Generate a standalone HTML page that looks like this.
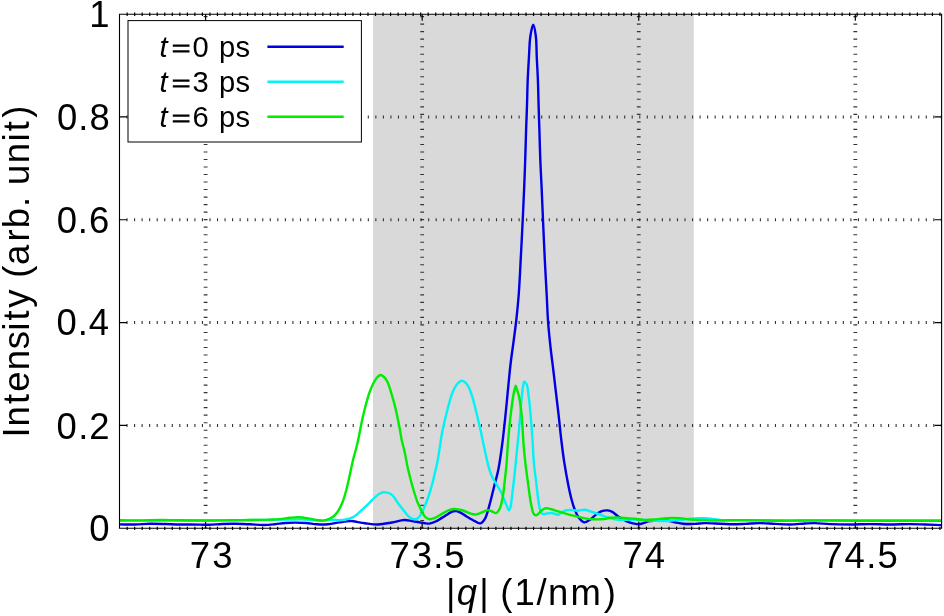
<!DOCTYPE html><html><head><meta charset="utf-8"><style>html,body{margin:0;padding:0;background:#fff;}svg{display:block;}text{font-family:"Liberation Sans",sans-serif;fill:#000;}svg{will-change:transform;}</style></head><body>
<svg width="944" height="616" viewBox="0 0 944 616">
<rect x="0" y="0" width="944" height="616" fill="#fff"/>
<rect x="373" y="14.8" width="320.8" height="512.9" fill="#d9d9d9"/>
<path d="M118.95 425.38H941.6M118.95 322.56H941.6M118.95 219.74H941.6M118.95 116.92H941.6" stroke="#333" stroke-width="3" stroke-dasharray="1.1 6.44" fill="none"/>
<path d="M205.60 16.05V528.2M422.17 16.05V528.2M638.75 16.05V528.2M855.32 16.05V528.2" stroke="#333" stroke-width="3.8" stroke-dasharray="1.1 6.42" fill="none"/>
<path d="M119.5 425.38h7.5M941.6 425.38h-7M119.5 322.56h7.5M941.6 322.56h-7M119.5 219.74h7.5M941.6 219.74h-7M119.5 116.92h7.5M941.6 116.92h-7M205.60 528.2v-6.5M205.60 14.3v6.5M422.17 528.2v-6.5M422.17 14.3v6.5M638.75 528.2v-6.5M638.75 14.3v6.5M855.32 528.2v-6.5M855.32 14.3v6.5" stroke="#000" stroke-width="1.2" fill="none"/>
<path d="M127.15 526.7v3.4M127.15 12.6v3.4M134.68 526.7v3.4M134.68 12.6v3.4M142.20 526.7v3.4M142.20 12.6v3.4M149.73 526.7v3.4M149.73 12.6v3.4M157.25 526.7v3.4M157.25 12.6v3.4M164.78 526.7v3.4M164.78 12.6v3.4M172.31 526.7v3.4M172.31 12.6v3.4M179.83 526.7v3.4M179.83 12.6v3.4M187.36 526.7v3.4M187.36 12.6v3.4M194.88 526.7v3.4M194.88 12.6v3.4M202.41 526.7v3.4M202.41 12.6v3.4M209.94 526.7v3.4M209.94 12.6v3.4M217.46 526.7v3.4M217.46 12.6v3.4M224.99 526.7v3.4M224.99 12.6v3.4M232.51 526.7v3.4M232.51 12.6v3.4M240.04 526.7v3.4M240.04 12.6v3.4M247.57 526.7v3.4M247.57 12.6v3.4M255.09 526.7v3.4M255.09 12.6v3.4M262.62 526.7v3.4M262.62 12.6v3.4M270.14 526.7v3.4M270.14 12.6v3.4M277.67 526.7v3.4M277.67 12.6v3.4M285.20 526.7v3.4M285.20 12.6v3.4M292.72 526.7v3.4M292.72 12.6v3.4M300.25 526.7v3.4M300.25 12.6v3.4M307.77 526.7v3.4M307.77 12.6v3.4M315.30 526.7v3.4M315.30 12.6v3.4M322.83 526.7v3.4M322.83 12.6v3.4M330.35 526.7v3.4M330.35 12.6v3.4M337.88 526.7v3.4M337.88 12.6v3.4M345.40 526.7v3.4M345.40 12.6v3.4M352.93 526.7v3.4M352.93 12.6v3.4M360.46 526.7v3.4M360.46 12.6v3.4M367.98 526.7v3.4M367.98 12.6v3.4M375.51 526.7v3.4M375.51 12.6v3.4M383.03 526.7v3.4M383.03 12.6v3.4M390.56 526.7v3.4M390.56 12.6v3.4M398.09 526.7v3.4M398.09 12.6v3.4M405.61 526.7v3.4M405.61 12.6v3.4M413.14 526.7v3.4M413.14 12.6v3.4M420.66 526.7v3.4M420.66 12.6v3.4M428.19 526.7v3.4M428.19 12.6v3.4M435.72 526.7v3.4M435.72 12.6v3.4M443.24 526.7v3.4M443.24 12.6v3.4M450.77 526.7v3.4M450.77 12.6v3.4M458.29 526.7v3.4M458.29 12.6v3.4M465.82 526.7v3.4M465.82 12.6v3.4M473.35 526.7v3.4M473.35 12.6v3.4M480.87 526.7v3.4M480.87 12.6v3.4M488.40 526.7v3.4M488.40 12.6v3.4M495.92 526.7v3.4M495.92 12.6v3.4M503.45 526.7v3.4M503.45 12.6v3.4M510.98 526.7v3.4M510.98 12.6v3.4M518.50 526.7v3.4M518.50 12.6v3.4M526.03 526.7v3.4M526.03 12.6v3.4M533.55 526.7v3.4M533.55 12.6v3.4M541.08 526.7v3.4M541.08 12.6v3.4M548.61 526.7v3.4M548.61 12.6v3.4M556.13 526.7v3.4M556.13 12.6v3.4M563.66 526.7v3.4M563.66 12.6v3.4M571.18 526.7v3.4M571.18 12.6v3.4M578.71 526.7v3.4M578.71 12.6v3.4M586.24 526.7v3.4M586.24 12.6v3.4M593.76 526.7v3.4M593.76 12.6v3.4M601.29 526.7v3.4M601.29 12.6v3.4M608.81 526.7v3.4M608.81 12.6v3.4M616.34 526.7v3.4M616.34 12.6v3.4M623.87 526.7v3.4M623.87 12.6v3.4M631.39 526.7v3.4M631.39 12.6v3.4M638.92 526.7v3.4M638.92 12.6v3.4M646.44 526.7v3.4M646.44 12.6v3.4M653.97 526.7v3.4M653.97 12.6v3.4M661.50 526.7v3.4M661.50 12.6v3.4M669.02 526.7v3.4M669.02 12.6v3.4M676.55 526.7v3.4M676.55 12.6v3.4M684.07 526.7v3.4M684.07 12.6v3.4M691.60 526.7v3.4M691.60 12.6v3.4M699.13 526.7v3.4M699.13 12.6v3.4M706.65 526.7v3.4M706.65 12.6v3.4M714.18 526.7v3.4M714.18 12.6v3.4M721.70 526.7v3.4M721.70 12.6v3.4M729.23 526.7v3.4M729.23 12.6v3.4M736.76 526.7v3.4M736.76 12.6v3.4M744.28 526.7v3.4M744.28 12.6v3.4M751.81 526.7v3.4M751.81 12.6v3.4M759.33 526.7v3.4M759.33 12.6v3.4M766.86 526.7v3.4M766.86 12.6v3.4M774.39 526.7v3.4M774.39 12.6v3.4M781.91 526.7v3.4M781.91 12.6v3.4M789.44 526.7v3.4M789.44 12.6v3.4M796.96 526.7v3.4M796.96 12.6v3.4M804.49 526.7v3.4M804.49 12.6v3.4M812.02 526.7v3.4M812.02 12.6v3.4M819.54 526.7v3.4M819.54 12.6v3.4M827.07 526.7v3.4M827.07 12.6v3.4M834.59 526.7v3.4M834.59 12.6v3.4M842.12 526.7v3.4M842.12 12.6v3.4M849.65 526.7v3.4M849.65 12.6v3.4M857.17 526.7v3.4M857.17 12.6v3.4M864.70 526.7v3.4M864.70 12.6v3.4M872.22 526.7v3.4M872.22 12.6v3.4M879.75 526.7v3.4M879.75 12.6v3.4M887.28 526.7v3.4M887.28 12.6v3.4M894.80 526.7v3.4M894.80 12.6v3.4M902.33 526.7v3.4M902.33 12.6v3.4M909.85 526.7v3.4M909.85 12.6v3.4M917.38 526.7v3.4M917.38 12.6v3.4M924.91 526.7v3.4M924.91 12.6v3.4M932.43 526.7v3.4M932.43 12.6v3.4M939.96 526.7v3.4M939.96 12.6v3.4" stroke="#000" stroke-width="1.2" fill="none"/>
<path d="M119.50 524.40 C124.67 524.43 129.88 524.60 135.00 524.50 C140.04 524.40 145.00 523.88 150.00 523.80 C155.00 523.72 160.00 523.88 165.00 524.00 C170.00 524.12 174.64 524.40 180.00 524.50 C186.19 524.62 194.65 524.53 200.00 524.60 C203.59 524.65 205.73 524.86 209.00 524.80 C212.94 524.72 217.66 524.17 222.00 524.00 C226.33 523.83 230.51 523.76 235.00 523.80 C239.82 523.84 245.09 524.10 250.00 524.30 C254.75 524.50 259.62 525.05 264.00 525.00 C267.89 524.96 271.42 524.54 275.00 524.20 C278.42 523.87 281.68 523.27 285.00 523.00 C288.28 522.74 291.42 522.61 294.80 522.60 C298.41 522.59 302.29 522.71 306.00 523.00 C309.69 523.28 313.33 524.08 317.00 524.30 C320.66 524.52 324.32 524.61 328.00 524.30 C331.75 523.99 335.58 522.96 339.30 522.40 C342.91 521.86 347.50 521.04 350.00 521.00 C351.34 520.98 351.74 521.13 353.10 521.30 C355.78 521.64 360.94 522.67 365.00 523.20 C369.23 523.75 373.59 524.59 378.00 524.50 C382.59 524.40 387.50 523.28 392.00 522.50 C396.24 521.77 400.67 520.13 404.30 520.00 C407.16 519.90 409.41 520.61 412.00 521.00 C414.65 521.40 417.65 521.98 420.00 522.40 C421.86 522.73 423.38 523.10 425.00 523.30 C426.51 523.49 427.83 523.80 429.40 523.60 C431.31 523.35 433.58 522.42 435.60 521.50 C437.72 520.54 439.83 519.08 441.80 517.90 C443.62 516.81 445.26 515.75 447.00 514.70 C448.73 513.65 450.50 512.18 452.20 511.60 C453.62 511.12 455.03 510.94 456.40 511.10 C457.79 511.26 459.08 511.90 460.50 512.60 C462.22 513.44 463.87 514.77 465.90 516.00 C468.46 517.55 472.02 519.83 474.70 521.10 C476.79 522.09 478.80 523.66 480.50 523.30 C482.20 522.93 483.63 520.96 484.90 518.90 C486.80 515.82 487.92 510.44 489.30 505.70 C490.88 500.30 492.21 494.15 493.70 488.20 C495.24 482.02 497.05 476.03 498.40 469.30 C499.91 461.74 501.05 452.76 502.10 445.00 C503.06 437.88 503.75 431.34 504.50 424.50 C505.25 417.67 505.91 410.96 506.60 404.00 C507.31 396.80 507.98 389.16 508.70 382.00 C509.38 375.17 510.00 368.66 510.80 362.00 C511.60 355.33 512.60 348.83 513.50 342.00 C514.44 334.84 515.45 327.57 516.30 320.00 C517.20 311.94 518.01 304.06 518.70 295.00 C519.52 284.23 520.06 271.56 520.70 259.60 C521.36 247.33 522.01 234.56 522.60 222.30 C523.17 210.37 523.75 197.98 524.20 187.00 C524.60 177.40 524.89 169.24 525.20 160.00 C525.53 150.26 525.79 139.54 526.10 130.00 C526.39 121.29 526.73 113.33 527.00 105.00 C527.27 96.67 527.37 88.06 527.70 80.00 C528.01 72.43 528.45 65.33 528.90 58.00 C529.35 50.67 529.45 42.10 530.40 36.00 C531.09 31.55 532.30 24.59 533.20 24.60 C534.10 24.61 535.20 31.55 535.80 36.00 C536.63 42.11 536.45 50.67 536.80 58.00 C537.15 65.33 537.60 72.43 537.90 80.00 C538.21 88.07 538.35 96.67 538.60 105.00 C538.85 113.33 539.13 121.29 539.40 130.00 C539.70 139.54 539.92 150.27 540.30 160.00 C540.66 169.24 541.16 177.40 541.60 187.00 C542.10 197.98 542.57 210.37 543.10 222.30 C543.64 234.56 544.19 247.33 544.80 259.60 C545.39 271.56 546.12 284.00 546.70 295.00 C547.21 304.61 547.44 313.09 548.10 322.00 C548.75 330.76 549.69 339.70 550.60 348.00 C551.44 355.65 552.41 362.58 553.30 370.00 C554.21 377.58 555.11 385.42 556.00 393.00 C556.87 400.41 557.74 407.43 558.60 415.00 C559.51 423.06 560.33 431.95 561.30 440.00 C562.21 447.55 563.08 454.64 564.20 461.90 C565.32 469.14 566.71 476.97 568.00 483.50 C569.08 488.97 570.11 493.97 571.30 498.50 C572.30 502.33 573.23 505.76 574.50 509.00 C575.66 511.95 576.79 514.92 578.50 517.20 C580.06 519.28 582.10 521.97 584.10 522.30 C585.95 522.60 588.11 520.89 590.00 519.70 C592.09 518.39 594.03 516.04 596.00 514.60 C597.72 513.34 599.20 512.10 601.10 511.40 C603.11 510.66 605.81 510.23 607.80 510.40 C609.47 510.55 610.77 511.08 612.30 511.90 C614.22 512.93 616.02 515.04 618.20 516.50 C620.63 518.13 623.79 519.94 626.30 521.10 C628.33 522.04 630.00 522.69 632.00 523.20 C634.12 523.74 636.61 524.32 638.70 524.20 C640.58 524.10 642.20 523.32 644.00 522.80 C645.90 522.26 647.57 521.38 649.80 521.00 C652.70 520.50 656.81 520.62 660.00 520.60 C662.83 520.58 665.44 520.50 668.00 520.80 C670.43 521.09 672.57 521.83 675.00 522.30 C677.62 522.80 680.25 523.42 683.20 523.70 C686.61 524.02 690.64 524.00 694.30 523.90 C697.90 523.80 701.49 523.16 705.00 523.10 C708.39 523.04 711.33 523.33 715.00 523.50 C719.50 523.71 725.00 524.23 730.00 524.30 C735.00 524.37 740.00 524.10 745.00 523.90 C750.00 523.70 755.00 523.10 760.00 523.10 C765.00 523.10 770.00 523.67 775.00 523.90 C780.00 524.13 785.00 524.57 790.00 524.50 C795.00 524.43 800.50 523.74 805.00 523.50 C808.67 523.30 811.33 523.05 815.00 523.10 C819.50 523.16 824.64 523.87 830.00 524.10 C836.19 524.37 843.33 524.50 850.00 524.50 C856.67 524.50 863.33 524.10 870.00 524.10 C876.67 524.10 883.33 524.50 890.00 524.50 C896.67 524.50 903.81 524.08 910.00 524.10 C915.36 524.12 919.90 524.34 925.00 524.50 C930.32 524.67 935.87 524.90 941.30 525.10" stroke="#0000e2" stroke-width="2.4" fill="none" stroke-linejoin="round" stroke-linecap="butt"/>
<path d="M119.50 520.60 C133.00 520.60 146.54 520.63 160.00 520.60 C173.37 520.57 186.67 520.47 200.00 520.40 C213.33 520.33 227.62 520.29 240.00 520.20 C250.72 520.12 261.01 520.01 270.00 519.90 C277.34 519.81 284.48 519.70 290.00 519.60 C293.91 519.53 296.52 519.35 300.00 519.40 C303.82 519.46 308.09 519.80 312.00 520.00 C315.75 520.20 319.63 520.68 323.00 520.60 C325.88 520.53 328.25 519.88 331.00 519.80 C333.91 519.72 337.44 520.27 340.00 520.20 C341.91 520.15 343.18 520.06 345.00 519.70 C347.29 519.24 350.54 518.37 352.60 517.40 C354.18 516.65 355.25 515.79 356.50 514.80 C357.82 513.76 359.04 512.46 360.30 511.30 C361.54 510.16 362.75 509.04 364.00 507.90 C365.28 506.74 366.63 505.63 367.90 504.40 C369.20 503.14 370.42 501.68 371.70 500.40 C372.95 499.15 374.18 497.91 375.50 496.80 C376.79 495.71 378.15 494.59 379.50 493.80 C380.72 493.09 381.93 492.39 383.20 492.20 C384.43 492.01 385.75 492.29 387.00 492.60 C388.29 492.92 389.61 493.31 390.80 494.10 C392.17 495.01 393.40 496.51 394.60 498.00 C395.95 499.67 396.95 501.70 398.40 503.70 C400.11 506.06 402.49 508.95 404.30 511.20 C405.81 513.07 406.95 514.96 408.50 516.30 C409.88 517.49 411.54 518.60 413.00 519.00 C414.19 519.33 415.44 519.38 416.50 519.00 C417.62 518.59 418.58 517.57 419.50 516.50 C420.62 515.19 421.60 513.28 422.50 511.50 C423.45 509.62 424.11 507.71 425.00 505.50 C426.08 502.81 427.37 499.78 428.50 496.50 C429.82 492.65 431.19 487.92 432.30 483.80 C433.34 479.94 434.14 476.21 435.00 472.50 C435.83 468.91 436.67 465.65 437.40 461.90 C438.22 457.71 438.84 453.20 439.60 448.50 C440.44 443.29 441.14 437.48 442.20 432.00 C443.27 426.48 444.69 420.86 446.00 415.50 C447.26 410.37 448.67 404.71 449.90 400.50 C450.81 397.40 451.54 394.86 452.50 392.50 C453.30 390.52 454.09 388.86 455.10 387.20 C456.09 385.56 457.24 383.70 458.50 382.60 C459.52 381.71 460.70 380.85 461.80 380.80 C462.86 380.75 464.03 381.47 465.00 382.20 C466.13 383.05 467.11 384.36 468.00 385.80 C469.06 387.53 469.87 389.79 470.70 392.00 C471.62 394.45 472.32 396.81 473.20 399.90 C474.42 404.21 475.82 410.20 477.10 415.50 C478.42 420.99 479.78 426.79 481.00 432.30 C482.18 437.62 483.30 443.36 484.30 448.00 C485.10 451.71 485.70 454.58 486.50 458.00 C487.35 461.63 488.28 465.89 489.30 469.20 C490.14 471.92 490.98 474.25 492.00 476.50 C492.93 478.55 493.89 480.11 495.10 482.20 C496.62 484.83 498.86 487.83 500.50 491.00 C502.29 494.45 504.02 499.15 505.30 502.20 C506.18 504.29 506.80 506.03 507.50 507.50 C508.02 508.60 508.50 510.31 509.00 510.30 C509.54 510.29 510.16 508.47 510.60 507.00 C511.36 504.46 511.48 500.31 512.00 496.10 C512.72 490.30 513.77 482.08 514.50 475.40 C515.19 469.14 515.76 462.66 516.30 457.20 C516.74 452.73 517.08 449.28 517.50 445.00 C517.97 440.26 518.53 435.00 519.00 430.00 C519.47 425.00 519.91 419.92 520.30 415.00 C520.68 410.25 520.90 405.33 521.30 401.00 C521.65 397.24 522.12 393.44 522.50 390.50 C522.78 388.37 522.97 386.61 523.30 385.00 C523.56 383.72 523.66 381.73 524.20 381.60 C524.75 381.47 526.03 383.25 526.60 384.30 C527.18 385.38 527.33 386.63 527.60 388.00 C527.92 389.64 528.03 391.37 528.30 393.50 C528.67 396.44 529.19 400.13 529.60 404.00 C530.10 408.77 530.55 414.51 531.00 420.00 C531.48 425.82 531.95 431.49 532.40 438.00 C532.93 445.69 533.18 455.22 533.90 463.20 C534.55 470.45 535.57 477.10 536.40 483.90 C537.20 490.50 537.80 498.10 538.80 503.40 C539.50 507.13 539.93 511.10 541.20 512.80 C541.89 513.73 542.80 514.17 543.70 514.30 C544.63 514.43 545.52 513.69 546.70 513.50 C548.33 513.24 550.66 513.00 552.60 513.20 C554.56 513.40 556.54 515.02 558.40 514.70 C560.41 514.36 562.17 511.59 564.20 510.80 C566.06 510.07 567.95 509.95 570.00 509.90 C572.31 509.85 574.94 510.73 577.40 510.70 C579.87 510.67 582.48 509.52 584.80 509.70 C586.92 509.87 588.61 510.80 590.80 511.50 C593.48 512.35 596.87 513.53 599.70 514.50 C602.28 515.39 604.62 516.31 607.10 517.10 C609.55 517.88 612.01 518.72 614.50 519.20 C616.95 519.68 619.43 519.92 621.90 520.00 C624.36 520.08 626.61 519.74 629.30 519.70 C632.54 519.65 636.50 519.64 640.00 519.80 C643.39 519.95 646.66 520.40 650.00 520.60 C653.33 520.80 656.85 520.94 660.00 521.00 C662.81 521.06 665.07 521.12 668.00 521.00 C671.60 520.85 675.85 520.41 680.00 520.00 C684.49 519.56 689.61 518.69 694.00 518.40 C697.88 518.14 701.06 518.01 705.00 518.20 C709.62 518.42 714.63 519.54 720.00 519.90 C726.18 520.31 733.33 520.23 740.00 520.30 C746.67 520.37 752.19 520.28 760.00 520.30 C771.05 520.33 785.92 520.46 800.00 520.50 C815.74 520.54 833.33 520.52 850.00 520.50 C866.67 520.48 884.13 520.40 900.00 520.40 C914.42 520.40 927.53 520.47 941.30 520.50" stroke="#00f4f4" stroke-width="2.4" fill="none" stroke-linejoin="round" stroke-linecap="butt"/>
<path d="M119.50 520.30 C126.33 520.33 133.21 520.45 140.00 520.40 C146.71 520.35 153.33 520.02 160.00 520.00 C166.67 519.98 172.72 520.22 180.00 520.30 C188.77 520.40 200.11 520.51 209.00 520.50 C216.56 520.49 223.09 520.38 230.00 520.30 C236.75 520.22 243.33 520.12 250.00 520.00 C256.67 519.88 264.48 519.79 270.00 519.60 C273.91 519.46 276.67 519.40 280.00 519.10 C283.34 518.80 286.80 518.12 290.00 517.80 C292.94 517.51 295.48 517.12 298.50 517.20 C301.98 517.29 306.37 518.07 309.70 518.60 C312.40 519.03 314.68 519.66 317.00 520.00 C319.09 520.30 321.10 520.73 323.00 520.60 C324.75 520.48 326.37 520.01 328.00 519.40 C329.71 518.76 331.45 517.98 333.00 516.80 C334.72 515.49 336.25 513.79 337.70 511.70 C339.52 509.08 341.18 505.52 342.60 502.00 C344.17 498.11 345.36 493.55 346.50 489.30 C347.62 485.11 348.48 480.83 349.40 476.70 C350.28 472.73 351.10 468.59 351.90 465.00 C352.59 461.94 353.16 459.37 353.90 456.50 C354.66 453.54 355.61 450.63 356.40 447.50 C357.25 444.14 358.05 440.59 358.80 437.00 C359.58 433.26 360.22 429.33 361.00 425.50 C361.78 421.66 362.61 417.74 363.50 414.00 C364.35 410.41 365.22 407.03 366.20 403.50 C367.21 399.87 368.32 395.81 369.50 392.50 C370.51 389.68 371.50 387.23 372.70 384.80 C373.85 382.48 375.04 379.91 376.50 378.20 C377.70 376.80 379.18 375.10 380.50 375.00 C381.67 374.91 382.96 376.08 384.00 377.00 C385.16 378.02 386.12 379.42 387.00 381.00 C388.07 382.91 388.88 385.44 389.70 387.80 C390.56 390.27 391.21 392.76 392.00 395.50 C392.90 398.61 393.93 402.08 394.80 405.50 C395.70 409.07 396.50 412.75 397.30 416.50 C398.13 420.41 398.96 424.54 399.70 428.50 C400.42 432.37 400.89 436.12 401.70 440.00 C402.54 444.02 403.74 447.86 404.70 452.20 C405.79 457.11 406.71 463.09 407.80 468.00 C408.76 472.34 409.76 476.25 410.80 480.20 C411.79 483.97 412.79 487.54 413.90 491.20 C415.02 494.88 416.32 499.23 417.50 502.20 C418.34 504.32 419.21 505.79 420.00 507.50 C420.74 509.09 421.26 510.59 422.10 512.10 C422.98 513.69 423.92 515.60 425.20 516.80 C426.39 517.91 427.88 518.97 429.40 519.20 C430.97 519.44 432.83 518.71 434.50 518.10 C436.27 517.45 437.98 516.29 439.70 515.30 C441.45 514.29 443.24 513.00 444.90 512.10 C446.35 511.31 447.59 510.61 449.10 510.10 C450.71 509.55 452.52 509.06 454.30 509.00 C456.15 508.94 458.23 509.44 460.00 509.80 C461.57 510.12 462.86 510.48 464.40 511.00 C466.17 511.60 468.19 512.70 470.00 513.30 C471.62 513.84 473.09 514.49 474.70 514.50 C476.41 514.51 478.09 513.81 480.00 513.20 C482.37 512.44 485.59 510.16 487.80 510.10 C489.41 510.05 490.61 511.00 492.00 511.50 C493.41 512.00 494.96 513.45 496.20 513.10 C497.64 512.69 498.89 510.40 499.90 508.30 C501.36 505.27 502.11 500.37 502.90 496.10 C503.75 491.48 504.12 486.64 504.70 481.50 C505.35 475.75 506.08 469.30 506.60 463.20 C507.12 457.13 507.37 450.67 507.80 445.00 C508.18 440.03 508.59 435.38 509.00 431.00 C509.36 427.11 509.71 423.58 510.10 420.00 C510.48 416.59 510.88 413.33 511.30 410.00 C511.72 406.67 512.14 403.03 512.60 400.00 C512.98 397.45 513.41 394.91 513.80 393.00 C514.07 391.66 514.30 390.78 514.60 389.60 C514.93 388.32 515.31 385.61 515.70 385.60 C516.08 385.59 516.50 388.20 516.90 389.40 C517.27 390.49 517.64 391.29 518.00 392.50 C518.49 394.16 518.98 396.38 519.40 398.50 C519.86 400.85 520.23 403.26 520.60 406.00 C521.05 409.31 521.46 413.18 521.80 417.00 C522.17 421.15 522.41 425.51 522.70 430.00 C523.01 434.82 523.18 439.76 523.60 445.00 C524.06 450.78 524.70 457.13 525.40 463.20 C526.10 469.30 526.98 475.41 527.80 481.50 C528.62 487.58 529.48 494.73 530.30 499.70 C530.87 503.17 531.42 506.05 532.00 508.50 C532.43 510.29 532.57 511.91 533.30 513.10 C533.92 514.11 534.94 515.31 535.80 515.40 C536.58 515.48 537.40 514.64 538.20 514.00 C539.21 513.18 540.07 511.65 541.20 510.70 C542.34 509.75 543.76 508.64 545.00 508.30 C546.02 508.02 546.79 508.21 548.00 508.40 C549.95 508.71 552.81 509.81 555.50 510.60 C558.64 511.52 562.70 512.76 565.70 513.60 C568.05 514.26 569.98 514.78 572.00 515.30 C573.87 515.78 575.46 516.13 577.40 516.60 C579.67 517.15 582.32 517.97 584.80 518.40 C587.25 518.83 589.56 519.06 592.20 519.20 C595.21 519.36 598.75 519.45 601.90 519.20 C604.94 518.96 607.96 518.10 610.80 517.80 C613.37 517.53 615.49 517.34 618.20 517.40 C621.53 517.47 626.21 518.27 629.30 518.50 C631.51 518.67 632.98 518.61 635.00 518.80 C637.31 519.02 639.68 519.65 642.40 519.80 C645.72 519.98 649.63 519.75 653.50 519.50 C657.76 519.22 662.50 518.33 666.90 518.10 C671.16 517.88 675.44 517.85 679.50 518.10 C683.33 518.34 686.65 519.14 690.60 519.50 C695.08 519.91 700.15 520.13 705.00 520.30 C709.95 520.47 714.64 520.52 720.00 520.50 C726.19 520.48 733.33 520.12 740.00 520.10 C746.67 520.08 753.33 520.30 760.00 520.40 C766.67 520.50 773.33 520.68 780.00 520.70 C786.67 520.72 792.66 520.55 800.00 520.50 C808.99 520.44 820.00 520.37 830.00 520.40 C840.00 520.43 849.28 520.63 860.00 520.70 C872.38 520.78 886.56 520.78 900.00 520.80 C913.66 520.82 927.53 520.80 941.30 520.80" stroke="#00ec00" stroke-width="2.4" fill="none" stroke-linejoin="round" stroke-linecap="butt"/>
<path d="M119.5 14.30H941.6V528.2H119.5Z" stroke="#000" stroke-width="1.1" fill="none"/>
<rect x="128" y="20.6" width="233.4" height="121.4" fill="#fff" stroke="#000" stroke-width="1"/>
<path d="M267.4 46.80H343.7" stroke="#0000e2" stroke-width="2.6"/>
<path d="M267.4 81.75H343.7" stroke="#00f4f4" stroke-width="2.6"/>
<path d="M267.4 116.70H343.7" stroke="#00ec00" stroke-width="2.6"/>
<text y="541.20" font-size="36.45"><tspan x="89.21">0</tspan></text>
<text y="438.80" font-size="36.45"><tspan x="56.59">0</tspan><tspan x="78.16">.</tspan><tspan x="89.15">2</tspan></text>
<text y="335.41" font-size="36.45"><tspan x="56.60">0</tspan><tspan x="77.73">.</tspan><tspan x="88.73">4</tspan></text>
<text y="232.59" font-size="36.45"><tspan x="56.64">0</tspan><tspan x="77.85">.</tspan><tspan x="88.92">6</tspan></text>
<text y="129.60" font-size="36.45"><tspan x="56.95">0</tspan><tspan x="78.26">.</tspan><tspan x="89.45">8</tspan></text>
<text y="26.60" font-size="36.45"><tspan x="89.22">1</tspan></text>
<text y="567.90" font-size="36.45"><tspan x="189.86">7</tspan><tspan x="212.26">3</tspan></text>
<text y="567.90" font-size="36.45"><tspan x="389.62">7</tspan><tspan x="411.67">3</tspan><tspan x="433.13">.</tspan><tspan x="444.37">5</tspan></text>
<text y="567.90" font-size="36.45"><tspan x="622.61">7</tspan><tspan x="644.83">4</tspan></text>
<text y="567.90" font-size="36.45"><tspan x="822.38">7</tspan><tspan x="844.53">4</tspan><tspan x="866.15">.</tspan><tspan x="877.51">5</tspan></text>
<text y="57.10" font-size="29.15"><tspan x="159.61" font-style="italic">t</tspan><tspan x="192.53">0</tspan><tspan x="218.89">p</tspan><tspan x="235.60">s</tspan></text>
<path d="M172.8 45.70H189.5M172.8 51.40H189.5" stroke="#000" stroke-width="2.3"/>
<text y="92.05" font-size="29.15"><tspan x="159.61" font-style="italic">t</tspan><tspan x="192.57">3</tspan><tspan x="218.89">p</tspan><tspan x="235.60">s</tspan></text>
<path d="M172.8 80.65H189.5M172.8 86.35H189.5" stroke="#000" stroke-width="2.3"/>
<text y="127.00" font-size="29.15"><tspan x="159.61" font-style="italic">t</tspan><tspan x="192.54">6</tspan><tspan x="218.89">p</tspan><tspan x="235.60">s</tspan></text>
<path d="M172.8 115.60H189.5M172.8 121.30H189.5" stroke="#000" stroke-width="2.3"/>
<text y="605.00" font-size="36.45"><tspan x="445.99">|</tspan><tspan x="456.85" font-style="italic">q</tspan><tspan x="479.22">|</tspan><tspan x="500.26">(</tspan><tspan x="514.47">1</tspan><tspan x="536.38">/</tspan><tspan x="547.98">n</tspan><tspan x="570.45">m</tspan><tspan x="603.72">)</tspan></text>
<text y="0.00" font-size="36.45" transform="translate(28.6 0) rotate(-90)"><tspan x="-437.38">I</tspan><tspan x="-426.48">n</tspan><tspan x="-404.02">t</tspan><tspan x="-391.69">e</tspan><tspan x="-370.31">n</tspan><tspan x="-349.36">s</tspan><tspan x="-330.85">i</tspan><tspan x="-320.51">t</tspan><tspan x="-307.64">y</tspan><tspan x="-277.82">(</tspan><tspan x="-265.10">a</tspan><tspan x="-241.57">r</tspan><tspan x="-228.17">b</tspan><tspan x="-207.02">.</tspan><tspan x="-184.99">u</tspan><tspan x="-163.15">n</tspan><tspan x="-141.52">i</tspan><tspan x="-131.18">t</tspan><tspan x="-117.78">)</tspan></text>
</svg></body></html>
